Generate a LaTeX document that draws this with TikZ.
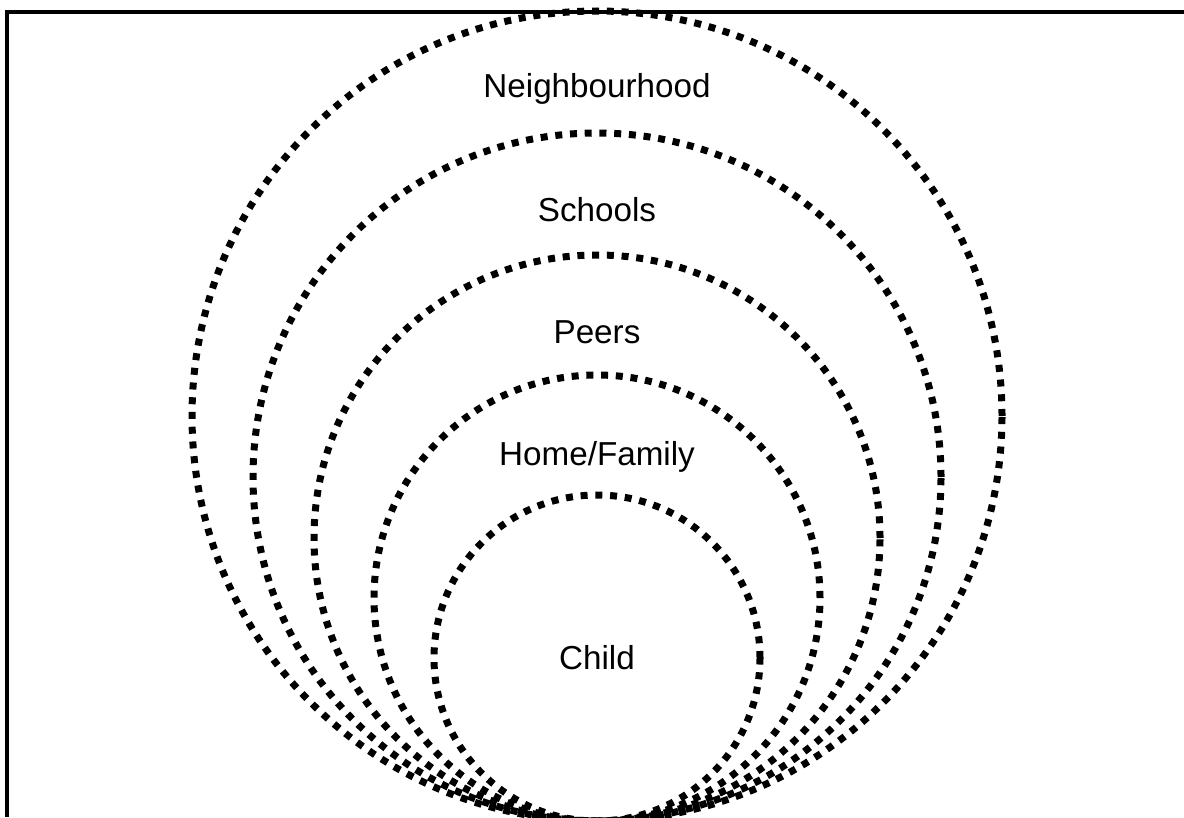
\documentclass[tikz,border=0pt]{standalone}
\usepackage{fontspec}
\setmainfont{Liberation Sans}
\usetikzlibrary{positioning}

\begin{document}
\begin{tikzpicture}[
  ring/.style={draw, circle, inner sep=0pt, line width=0.14cm,
    dash pattern=on 0.14cm off 0.155cm},
  lbl/.style={font=\fontsize{18.9}{22}\selectfont, inner sep=0pt},
  frame/.style={line width=0.08cm}
]
\useasboundingbox (0,0) rectangle (23.68,-16.34);

% Frame (only top and left edges show)
\coordinate (fbl) at (0.13,-16.34);
\coordinate (ftr) at (23.68,-0.24);
\draw[frame] (fbl) |- (ftr);

% Nested rings, all touching at the bottom
\node[ring, minimum size=16.20cm] (nb) at (11.94,-8.32) {};
\node[ring, minimum size=13.76cm] (sc) at (11.94,-9.54) {};
\node[ring, minimum size=11.32cm] (pe) at (11.94,-10.76) {};
\node[ring, minimum size=8.92cm] (hf) at (11.94,-11.96) {};
\node[ring, minimum size=6.52cm] (ch) at (11.94,-13.16) {};

% Labels
\node[lbl] (nbtext) at ([yshift=-1.62cm]nb.north) {Neighbourhood};
\node[lbl] (sctext) at ([yshift=-1.60cm]sc.north) {Schools};
\node[lbl] (petext) at ([yshift=-1.62cm]pe.north) {Peers};
\node[lbl] (hftext) at ([yshift=-1.70cm]hf.north) {Home/Family};
\node[lbl] (chtext) at (ch) {Child};

\end{tikzpicture}
\end{document}
